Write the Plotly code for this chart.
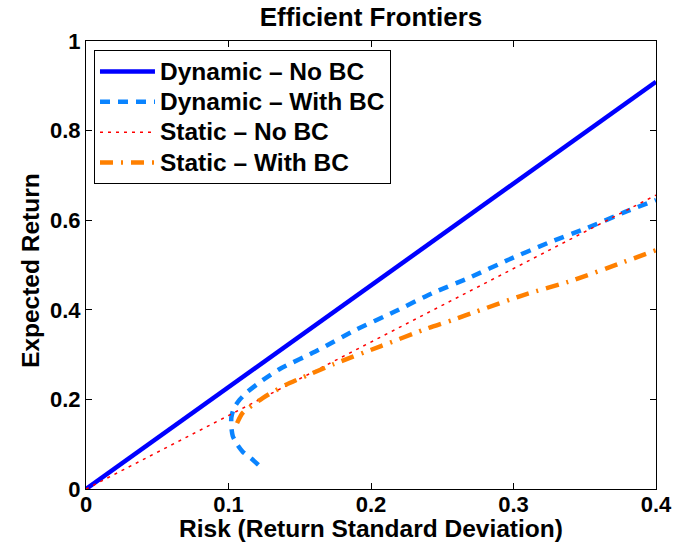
import plotly.graph_objects as go

# Efficient frontier curves: risk (std dev) vs expected return
dyn_nobc_x = [0.0, 0.4]
dyn_nobc_y = [0.0, 0.909]

dyn_bc_x = [0.121, 0.116, 0.110, 0.106, 0.103, 0.102, 0.102, 0.104, 0.108, 0.113,
            0.124, 0.136, 0.163, 0.189, 0.216, 0.243, 0.270, 0.296, 0.324, 0.352,
            0.378, 0.400]
dyn_bc_y = [0.054, 0.068, 0.083, 0.100, 0.118, 0.138, 0.160, 0.182, 0.200, 0.216,
            0.243, 0.268, 0.310, 0.355, 0.395, 0.437, 0.473, 0.511, 0.549, 0.583,
            0.618, 0.645]

sta_nobc_x = [0.0, 0.4]
sta_nobc_y = [0.0, 0.656]

sta_bc_x = [0.106, 0.110, 0.124, 0.140, 0.157, 0.174, 0.207, 0.240, 0.257, 0.273,
            0.307, 0.342, 0.375, 0.400]
sta_bc_y = [0.147, 0.170, 0.203, 0.232, 0.256, 0.279, 0.319, 0.359, 0.377, 0.395,
            0.433, 0.466, 0.504, 0.533]

series_names = ["Dynamic \u2013 No BC", "Dynamic \u2013 With BC",
                "Static \u2013 No BC", "Static \u2013 With BC"]

x_ticks = [0, 0.1, 0.2, 0.3, 0.4]
x_tick_text = ["0", "0.1", "0.2", "0.3", "0.4"]
y_ticks = [0, 0.2, 0.4, 0.6, 0.8, 1]
y_tick_text = ["0", "0.2", "0.4", "0.6", "0.8", "1"]

FONT = "Liberation Sans"


def legend_label(text):
    # larger glyphs than the legend's base size, keeping the rows compact
    return '<span style="font-size:24.5px">' + text + "</span>"


fig = go.Figure()
fig.add_trace(go.Scatter(x=dyn_nobc_x, y=dyn_nobc_y, mode="lines",
                         name=legend_label(series_names[0]),
                         line=dict(color="#0000ff", width=4.5)))
fig.add_trace(go.Scatter(x=dyn_bc_x, y=dyn_bc_y, mode="lines",
                         name=legend_label(series_names[1]),
                         line=dict(color="#0a84ff", width=4.5, dash="10px,8px",
                                   shape="spline", smoothing=0.6)))
fig.add_trace(go.Scatter(x=sta_nobc_x, y=sta_nobc_y, mode="lines",
                         name=legend_label(series_names[2]),
                         line=dict(color="#ff0000", width=1.5, dash="3px,5px")))
fig.add_trace(go.Scatter(x=sta_bc_x, y=sta_bc_y, mode="lines",
                         name=legend_label(series_names[3]),
                         line=dict(color="#ff8000", width=4.5, dash="13px,8px,2px,8px",
                                   shape="spline", smoothing=0.6)))

axis_common = dict(
    showline=True, linecolor="black", linewidth=1.2, mirror="ticks",
    ticks="inside", ticklen=6, tickcolor="black", tickwidth=1,
    showgrid=False, zeroline=False, automargin=False,
    tickfont=dict(family=FONT, size=22, color="black", weight="bold"),
)

fig.update_xaxes(range=[0, 0.4], tickvals=x_ticks, ticktext=x_tick_text,
                 ticklabelstandoff=-5, **axis_common)
fig.update_yaxes(range=[0, 1], tickvals=y_ticks, ticktext=y_tick_text,
                 **axis_common)

title_font = dict(family=FONT, size=24.5, color="black", weight="bold")
fig.add_annotation(text="Risk (Return Standard Deviation)", xref="paper", yref="paper",
                   x=0.5, y=0, yshift=-39, xanchor="center", yanchor="middle",
                   showarrow=False, font=title_font)
fig.add_annotation(text="Expected Return", xref="paper", yref="paper",
                   x=0, y=0.5, xshift=-56, yshift=-6, xanchor="center", yanchor="middle",
                   textangle=-90, showarrow=False, font=title_font)

fig.update_layout(
    width=675, height=552,
    margin=dict(l=86, r=19, t=41, b=63),
    paper_bgcolor="white", plot_bgcolor="white",
    title=dict(text="Efficient Frontiers", xref="paper", x=0.5, xanchor="center",
               y=0.97, yanchor="middle",
               font=dict(family=FONT, size=26, color="black", weight="bold")),
    legend=dict(x=0.014, y=0.979, xanchor="left", yanchor="top",
                bgcolor="white", bordercolor="black", borderwidth=1,
                font=dict(family=FONT, size=21, color="black", weight="bold"),
                itemwidth=55, tracegroupgap=0),
    showlegend=True,
)

fig.write_html("out.html")
